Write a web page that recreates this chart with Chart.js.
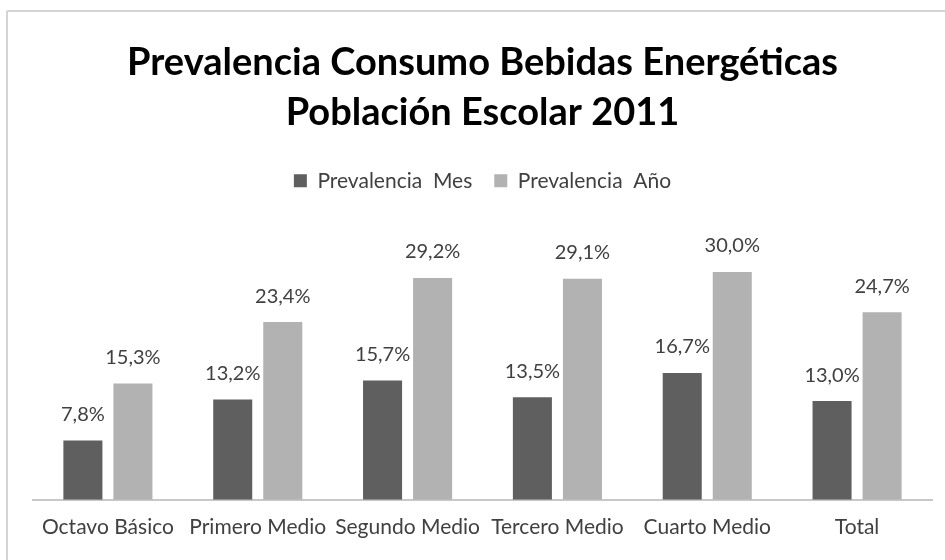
<!DOCTYPE html>
<html>
<head>
<meta charset="utf-8">
<script src="https://cdn.jsdelivr.net/npm/chart.js@4/dist/chart.umd.min.js"></script>
<style>
html,body{margin:0;padding:0;background:#fff;}
#wrap{width:945px;height:560px;position:relative;}
</style>
</head>
<body>
<div id="wrap"><canvas id="c" width="945" height="560"></canvas></div>
<script>
const categories = ['Octavo Básico', 'Primero Medio', 'Segundo Medio', 'Tercero Medio', 'Cuarto Medio', 'Total'];
const prevalenciaMes = [7.8, 13.2, 15.7, 13.5, 16.7, 13.0];
const prevalenciaAno = [15.3, 23.4, 29.2, 29.1, 30.0, 24.7];
const seriesNames = ['Prevalencia  Mes', 'Prevalencia  Año'];
const titleLines = ['Prevalencia Consumo Bebidas Energéticas', 'Población Escolar 2011'];

const FONT = "'Lato', 'Open Sans', sans-serif";

const frame = {
  id: 'frame',
  beforeDraw(chart) {
    const ctx = chart.ctx;
    ctx.save();
    ctx.fillStyle = '#ffffff';
    ctx.fillRect(0, 0, chart.width, chart.height);
    ctx.strokeStyle = '#d4d4d4';
    ctx.lineWidth = 2;
    ctx.beginPath();
    ctx.moveTo(7, 11);
    ctx.lineTo(chart.width, 11);
    ctx.moveTo(7, 11);
    ctx.lineTo(7, chart.height);
    ctx.stroke();
    ctx.restore();
  }
};

const valueLabels = {
  id: 'valueLabels',
  afterDatasetsDraw(chart) {
    const ctx = chart.ctx;
    ctx.save();
    ctx.font = '20px ' + FONT;
    ctx.fillStyle = '#404040';
    ctx.textAlign = 'center';
    ctx.textBaseline = 'bottom';
    chart.data.datasets.forEach((ds, i) => {
      const meta = chart.getDatasetMeta(i);
      meta.data.forEach((bar, j) => {
        const txt = ds.data[j].toFixed(1).replace('.', ',') + '%';
        ctx.fillText(txt, bar.x, bar.y - 16);
      });
    });
    ctx.restore();
  }
};

new Chart(document.getElementById('c'), {
  type: 'bar',
  data: {
    labels: categories,
    datasets: [
      { label: seriesNames[0], data: prevalenciaMes, backgroundColor: '#5f5f5f', borderWidth: 0 },
      { label: seriesNames[1], data: prevalenciaAno, backgroundColor: '#b2b2b2', borderWidth: 0 }
    ]
  },
  options: {
    responsive: false,
    animation: false,
    devicePixelRatio: 1,
    categoryPercentage: 0.668,
    barPercentage: 0.78,
    layout: { padding: { left: 33, right: 13, top: 22, bottom: 5 } },
    plugins: {
      title: {
        display: true,
        text: titleLines,
        color: '#000000',
        font: { family: FONT, size: 38, weight: 'bold', lineHeight: 1.32 },
        padding: { top: 16, bottom: 10 }
      },
      legend: {
        display: true,
        position: 'top',
        labels: {
          color: '#404040',
          font: { family: FONT, size: 21 },
          boxWidth: 13,
          boxHeight: 13,
          padding: 22
        }
      },
      tooltip: { enabled: false }
    },
    scales: {
      x: {
        grid: { display: false, drawTicks: false },
        border: { display: true, color: '#c8c8c8', width: 2 },
        ticks: { color: '#404040', font: { family: FONT, size: 21 }, padding: 15, maxRotation: 0, autoSkip: false }
      },
      y: {
        display: false,
        min: 0,
        max: 39.3
      }
    }
  },
  plugins: [frame, valueLabels]
});
</script>
</body>
</html>
